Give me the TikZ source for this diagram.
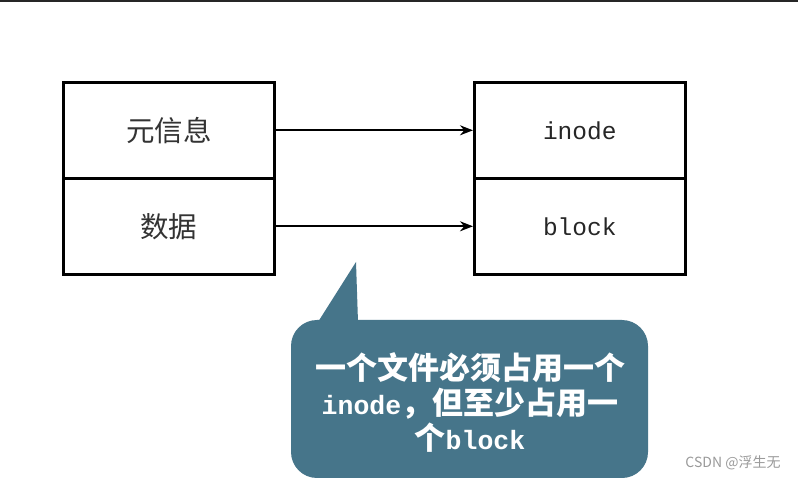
\documentclass[tikz,border=0pt]{standalone}
\usepackage{fontspec}
\newfontfamily\cjk{Noto Sans CJK SC}
\newfontfamily\lat{Liberation Mono}
\usetikzlibrary{arrows.meta}
\definecolor{callout}{HTML}{46758A}
\definecolor{wm}{HTML}{9A9A9A}
\tikzset{
  cell/.style={draw=black,line width=2.6pt,minimum width=211pt,minimum height=96pt,inner sep=0pt,anchor=north west},
  conn/.style={line width=1.6pt,-{Stealth[length=13pt,width=10pt]}},
}
\begin{document}
\begin{tikzpicture}[x=1pt,y=-1pt]
\useasboundingbox (0,0) rectangle (798,478);
\fill[white] (0,0) rectangle (798,478);
\draw[line width=1.6pt,black!85] (0,0.8) -- (798,0.8);
\node[cell] (meta) at (62,81) {};
\node[cell] (data) at (62,177) {};
\node[cell] (inode) at (473,81) {};
\node[cell] (block) at (473,177) {};
\node[font=\cjk\fontsize{28.5}{28.5}\selectfont,text=black!80] at (meta.center) {元信息};
\node[font=\cjk\fontsize{28.5}{28.5}\selectfont,text=black!80] at (data.center) {数据};
\node[font=\lat\fontsize{24.5}{24.5}\selectfont,text=black!85] at (inode.center) {inode};
\node[font=\lat\fontsize{24.5}{24.5}\selectfont,text=black!85] at (block.center) {block};
\draw[conn] (meta.east) -- (inode.west);
\draw[conn] (data.east) -- (block.west);
\coordinate (tip) at (356,262);
\fill[callout,rounded corners=26pt] (291,320) rectangle (648,478);
\fill[callout] (318,322) -- (tip) -- (358,322) -- cycle;
\node[text=white,align=center,font=\cjk\bfseries\fontsize{31}{35}\selectfont,inner sep=0pt] (note) at (470,402)
  {一个文件必须占用一个\\{\lat\bfseries\fontsize{26.5}{35}\selectfont inode}，但至少占用一\\个{\lat\bfseries\fontsize{26.5}{35}\selectfont block}};
\node[text=wm,font=\cjk\fontsize{14}{14}\selectfont,anchor=center] (wmk) at (733,463) {CSDN @浮生无};
\end{tikzpicture}
\end{document}
